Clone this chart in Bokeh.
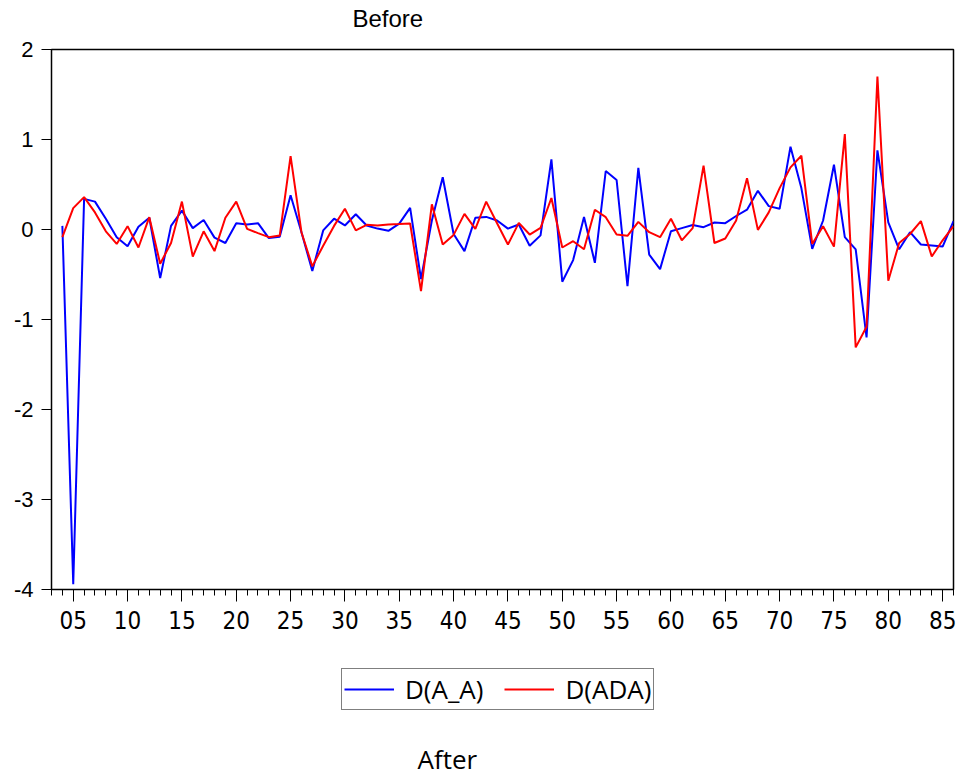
from bokeh.plotting import figure
from bokeh.layouts import column
from bokeh.models import (Range1d, SingleIntervalTicker, FixedTicker, PrintfTickFormatter,
                          Legend, LegendItem, Label)
from bokeh.embed import file_html
from bokeh.resources import INLINE

# observation index
obs = list(range(4, 87))

# first differences of A_A
d_a_a = [
    0.04, -3.94, 0.34, 0.31, 0.12, -0.085, -0.185, 0.03, 0.13, -0.54,
    0.04, 0.21, 0.015, 0.105, -0.09, -0.15, 0.07, 0.056, 0.07, -0.095,
    -0.08, 0.38, -0.03, -0.46, -0.01, 0.12, 0.045, 0.17, 0.045, 0.01,
    -0.015, 0.065, 0.24, -0.55, 0.1, 0.58, -0.05, -0.24, 0.13, 0.14,
    0.1, 0.01, 0.056, -0.18, -0.065, 0.78, -0.58, -0.34, 0.14, -0.37,
    0.65, 0.55, -0.63, 0.685, -0.28, -0.44, -0.02, 0.015, 0.05, 0.026,
    0.078, 0.07, 0.15, 0.22, 0.43, 0.26, 0.23, 0.92, 0.46, -0.215,
    0.1, 0.72, -0.085, -0.22, -1.2, 0.88, 0.08, -0.22, -0.03, -0.167,
    -0.178, -0.19, 0.093,
]

# first differences of ADA
d_ada = [
    -0.085, 0.237, 0.36, 0.19, -0.02, -0.16, 0.037, -0.2, 0.137, -0.38,
    -0.15, 0.31, -0.3, -0.02, -0.24, 0.13, 0.31, 0.007, -0.04, -0.085,
    -0.067, 0.815, -0.03, -0.41, -0.18, 0.04, 0.23, -0.01, 0.052, 0.044,
    0.056, 0.06, 0.067, -0.685, 0.28, -0.167, -0.06, 0.174, 0.007, 0.31,
    0.07, -0.167, 0.074, -0.056, 0.019, 0.35, -0.2, -0.13, -0.22, 0.22,
    0.137, -0.056, -0.07, 0.085, -0.03, -0.085, 0.12, -0.12, 0.015, 0.71,
    -0.15, -0.1, 0.1, 0.57, -0.004, 0.19, 0.46, 0.69, 0.82, -0.16,
    0.037, -0.19, 1.06, -1.31, -1.08, 1.7, -0.57, -0.15, -0.05, 0.093,
    -0.3, -0.12, 0.037,
]

y_ticks = [-4, -3, -2, -1, 0, 1, 2]

BLUE = "#0000FF"
RED = "#FF0000"


def strip(height):
    """Blank figure used to carry text and the legend around the chart.
    Its frame lines up with the chart frame, so screen x is measured from x=51."""
    s = figure(width=958, height=height, output_backend="svg", toolbar_location=None,
               x_range=Range1d(0, 1), y_range=Range1d(0, 1),
               x_axis_location=None, y_axis_location=None,
               min_border_left=0, min_border_right=0, min_border_top=0, min_border_bottom=0)
    s.grid.visible = False
    s.outline_line_color = None
    s.background_fill_color = "white"
    s.border_fill_color = "white"
    return s


# heading strip
t = strip(34)
t.add_layout(Label(x=301, y=3, x_units="screen", y_units="screen", text="Before",
                   text_font="Liberation Sans, Arial, sans-serif", text_font_size="24px",
                   text_color="black", text_baseline="bottom"))

# main chart
p = figure(width=958, height=616, output_backend="svg", toolbar_location=None,
           x_range=Range1d(3, 86), y_range=Range1d(-4, 2),
           min_border_left=51, min_border_right=5, min_border_top=15,
           min_border_bottom=61)

p.grid.visible = False
p.outline_line_color = "black"
p.outline_line_width = 1.5
p.background_fill_color = "white"
p.border_fill_color = "white"

p.line(obs, d_a_a, line_color=BLUE, line_width=2)
p.line(obs, d_ada, line_color=RED, line_width=2)

xa = p.xaxis[0]
xa.ticker = SingleIntervalTicker(interval=5, num_minor_ticks=5)
xa.formatter = PrintfTickFormatter(format="%02d")
xa.major_tick_out = 12
xa.major_tick_in = 0
xa.minor_tick_out = 6
xa.minor_tick_in = 0
xa.major_label_standoff = 9
xa.major_label_text_font = "Liberation Sans Narrow, DejaVu Sans Condensed, Liberation Sans, sans-serif"
xa.major_label_text_font_size = "24px"
xa.axis_line_color = "black"
xa.major_tick_line_color = "black"
xa.minor_tick_line_color = "black"
xa.major_label_text_color = "black"

ya = p.yaxis[0]
ya.ticker = FixedTicker(ticks=y_ticks)
ya.formatter = PrintfTickFormatter(format="%d")
ya.major_tick_out = 10
ya.major_tick_in = 0
ya.minor_tick_line_color = None
ya.major_label_standoff = 8
ya.major_label_text_font = "Liberation Sans, Arial, sans-serif"
ya.major_label_text_font_size = "22px"
ya.axis_line_color = "black"
ya.major_label_text_color = "black"

# strip below the chart holding the legend and the caption
q = strip(129)

# legend keys (kept outside the visible range of the strip)
k1 = q.line([-2, -1], [-2, -1], line_color=BLUE, line_width=2)
k2 = q.line([-2, -1], [-2, -1], line_color=RED, line_width=2)

legend = Legend(items=[LegendItem(label="D(A_A)", renderers=[k1]),
                       LegendItem(label="D(ADA)", renderers=[k2])],
                orientation="horizontal", location=(290, 69),
                border_line_color="black", border_line_width=1,
                label_text_font="Open Sans", label_text_font_size="26px",
                label_text_color="black",
                glyph_width=50, glyph_height=20, label_standoff=11,
                spacing=21, padding=2, margin=0, background_fill_alpha=1.0)
q.add_layout(legend, "center")

q.add_layout(Label(x=366, y=3, x_units="screen", y_units="screen", text="After",
                   text_font="Open Sans", text_font_size="26px", text_color="black",
                   text_baseline="bottom"))

layout = column(t, p, q, spacing=0)

open("out.html", "w").write(file_html(layout, INLINE))
